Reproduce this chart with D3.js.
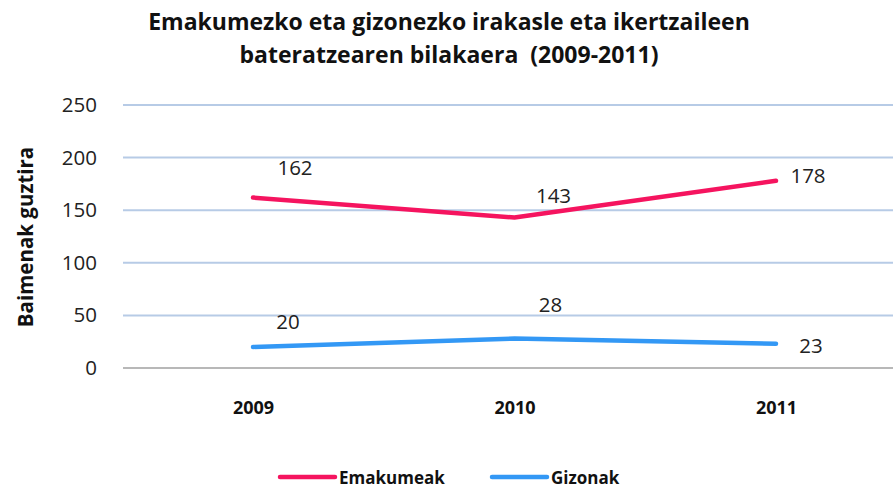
<!DOCTYPE html>
<html><head><meta charset="utf-8">
<script src="https://cdn.jsdelivr.net/npm/d3@7"></script>
<style>
body{margin:0;background:#fff;}
svg{display:block;}
</style></head>
<body>
<svg id="c" width="893" height="491"></svg>
<script>
const categories = ["2009","2010","2011"];
const emakumeak = [162,143,178];
const gizonak = [20,28,23];
const seriesNames = ["Emakumeak","Gizonak"];
const yTicks = [0,50,100,150,200,250];
// label offsets (pixels) relative to each point
const emakOffsets = [[42,-31],[39,-23],[32,-6]];
const gizOffsets = [[35,-26],[36,-35],[35,1]];

const svg = d3.select("#c");
const W=893,H=491;
const x = d3.scalePoint().domain(categories).range([253,776]);
const y = d3.scaleLinear().domain([0,250]).range([368,105]);
const numFont = "'Open Sans', 'DejaVu Sans', sans-serif";
const tFont = "'Open Sans', sans-serif";

// gridlines
svg.append("g").selectAll("line").data(yTicks.filter(d=>d>0)).join("line")
  .attr("x1",123).attr("x2",W).attr("y1",d=>y(d)).attr("y2",d=>y(d))
  .attr("stroke","#b7cbe6").attr("stroke-width",2);
svg.append("line").attr("x1",123).attr("x2",W).attr("y1",y(0)).attr("y2",y(0))
  .attr("stroke","#a0a0a0").attr("stroke-width",1.5);

// y axis labels
const yAxis = d3.axisLeft(y).tickValues(yTicks).tickSize(0).tickPadding(0);
const gy = svg.append("g").attr("transform","translate(97,0)").call(yAxis);
gy.select(".domain").remove();
gy.selectAll("text").attr("font-family",numFont).attr("font-size",20.5).attr("fill","#222");

// x axis labels
const xAxis = d3.axisBottom(x).tickSize(0).tickPadding(0);
const gx = svg.append("g").attr("transform","translate(0,401)").call(xAxis);
gx.select(".domain").remove();
gx.selectAll("text").attr("font-family",numFont).attr("font-size",18).attr("font-weight","bold").attr("fill","#111");

// lines
const line = d3.line().x((d,i)=>x(categories[i])).y(d=>y(d));
const data = [
  {name:seriesNames[0],vals:emakumeak,color:"#f5145f",off:emakOffsets},
  {name:seriesNames[1],vals:gizonak,color:"#3398f5",off:gizOffsets}];
data.forEach(s=>{
  svg.append("path").datum(s.vals).attr("d",line).attr("fill","none")
    .attr("stroke",s.color).attr("stroke-width",4.5).attr("stroke-linecap","round").attr("stroke-linejoin","round");
  svg.append("g").selectAll("text").data(s.vals).join("text")
    .attr("x",(d,i)=>x(categories[i]) + s.off[i][0])
    .attr("y",(d,i)=>y(d) + s.off[i][1])
    .attr("text-anchor","middle").attr("dominant-baseline","central")
    .attr("font-family",numFont).attr("font-size",20.5).attr("fill","#222")
    .text(d=>d);
});

// title
svg.append("text").attr("x",449).attr("y",30).attr("text-anchor","middle")
  .attr("font-family",tFont).attr("font-size",23).attr("font-weight","bold").attr("fill","#111")
  .text("Emakumezko eta gizonezko irakasle eta ikertzaileen");
svg.append("text").attr("x",449).attr("y",63).attr("text-anchor","middle")
  .attr("font-family",tFont).attr("font-size",23).attr("font-weight","bold").attr("fill","#111")
  .attr("xml:space","preserve")
  .text("bateratzearen bilakaera  (2009-2011)");

// y axis title
svg.append("text").attr("transform","translate(25,237) rotate(-90)").attr("text-anchor","middle")
  .attr("dominant-baseline","central")
  .attr("font-family",tFont).attr("font-size",20.5).attr("font-weight","bold").attr("fill","#111")
  .text("Baimenak guztira");

// legend
const leg = [{x:280},{x:492}];
data.forEach((s,i)=>{
  const lx=leg[i].x;
  svg.append("line").attr("x1",lx).attr("x2",lx+55).attr("y1",477).attr("y2",477)
    .attr("stroke",s.color).attr("stroke-width",4.5).attr("stroke-linecap","round");
  svg.append("text").attr("x",lx+59).attr("y",477).attr("dominant-baseline","central")
    .attr("font-family",tFont).attr("font-size",17).attr("font-weight","bold").attr("fill","#111")
    .text(s.name);
});
</script>
</body></html>
